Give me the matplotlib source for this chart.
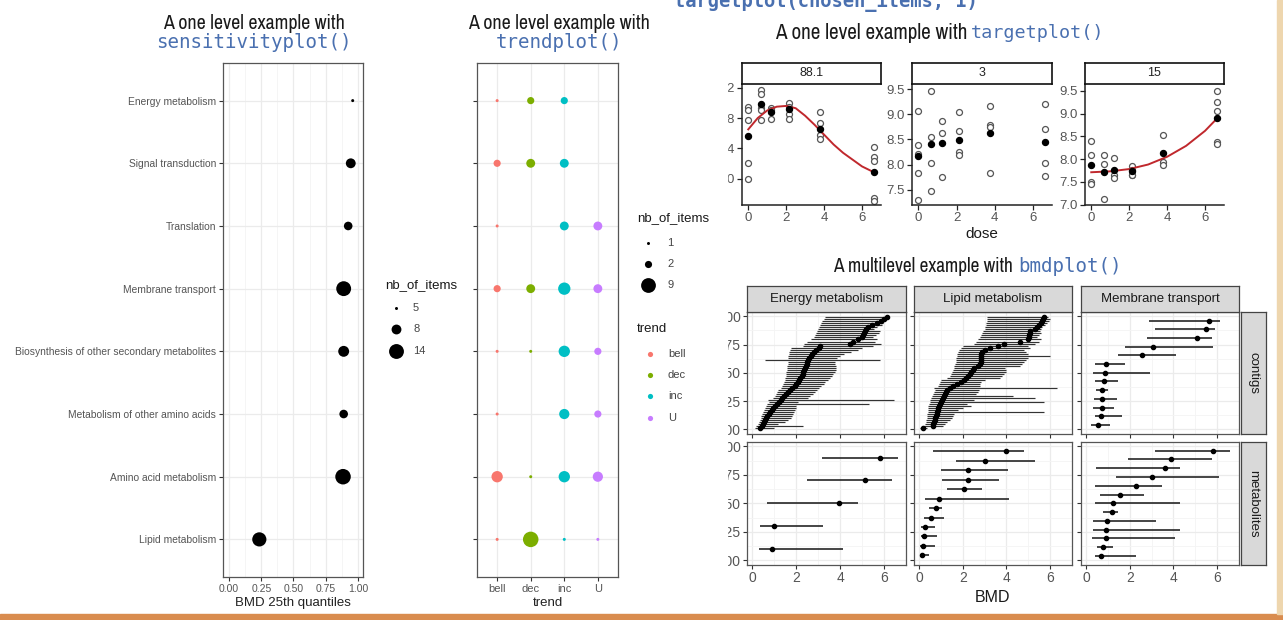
import numpy as np
import matplotlib
matplotlib.use("Agg")
import matplotlib.pyplot as plt
from matplotlib.patches import Rectangle
from matplotlib import font_manager

plt.rcParams['font.family'] = ['Liberation Sans', 'DejaVu Sans']

W, H = 1283, 620
fig = plt.figure(figsize=(W / 100, H / 100), dpi=100)

MONO = ['DejaVu Sans Mono']
BLUE = '#4a70b0'
NARROW_FP = font_manager.FontProperties(family=['Archivo Narrow', 'Liberation Sans', 'DejaVu Sans'])


def box(x0, y0, x1, y1):
    # pixel box (top-left origin) -> figure fraction
    return [x0 / W, 1 - y1 / H, (x1 - x0) / W, (y1 - y0) / H]


# ---------------- data ----------------
# sensitivityplot / trendplot (bottom -> top)
categories = ['Lipid metabolism', 'Amino acid metabolism', 'Metabolism of other amino acids',
              'Biosynthesis of other secondary metabolites', 'Membrane transport',
              'Translation', 'Signal transduction', 'Energy metabolism']
sens_q25 = [0.235, 0.885, 0.89, 0.89, 0.89, 0.925, 0.945, 0.96]
sens_nb = [13, 15, 7, 9, 14, 7, 8, 5]

trend_levels = ['bell', 'dec', 'inc', 'U']
trend_colors = ['#F8766D', '#7CAE00', '#00BFC4', '#C77CFF']
trend_bell = [1, 5, 1, 1, 2, 1, 2, 1]
trend_dec = [10, 1, 0, 1, 3, 0, 3, 2]
trend_inc = [1, 5, 4, 5, 6, 3, 3, 2]
trend_u = [1, 4, 2, 2, 3, 3, 0, 0]

# targetplot
doses = [0, 0.69, 1.22, 2.15, 3.78, 6.65]
t_labels = ['88.1', '3', '15']
t1_obs = [[8.95, 8.90, 8.77, 8.21, 8.00], [9.17, 9.12, 8.93, 8.90, 8.77], [8.93, 8.90, 8.79],
          [9.00, 8.95, 8.85, 8.79], [8.88, 8.73, 8.57, 8.52], [8.42, 8.29, 8.23, 7.74, 7.70]]
t1_mean = [8.56, 8.98, 8.88, 8.92, 8.65, 8.08]
t2_obs = [[9.07, 8.39, 8.22, 7.84, 7.29], [9.47, 8.54, 8.04, 7.48], [8.87, 8.63, 7.76],
          [9.04, 8.67, 8.26, 8.19], [9.17, 8.78, 8.74, 7.84], [9.20, 8.70, 8.04, 7.77]]
t2_mean = [8.17, 8.40, 8.43, 8.49, 8.62, 8.44]
t3_obs = [[8.39, 8.08, 7.49, 7.46], [8.10, 7.89, 7.13], [8.02, 7.66, 7.59],
          [7.84, 7.77, 7.66, 7.64], [8.52, 7.93, 7.88], [9.50, 9.25, 9.06, 8.37, 8.34]]
t3_mean = [7.87, 7.71, 7.75, 7.73, 8.13, 8.90]
c1_dose = [0, 0.5, 1, 1.5, 2, 2.5, 3, 3.5, 4, 4.5, 5, 5.5, 6, 6.65]
c1_val = [8.65, 8.80, 8.90, 8.95, 8.96, 8.93, 8.83, 8.71, 8.58, 8.45, 8.34, 8.25, 8.16, 8.08]
c3_dose = [0, 1, 2, 3, 4, 5, 6, 6.65]
c3_val = [7.71, 7.73, 7.78, 7.88, 8.05, 8.29, 8.62, 8.90]

# bmdplot
bmd_cols = ['Energy metabolism', 'Lipid metabolism', 'Membrane transport']
bmd_rows = ['contigs', 'metabolites']

em_c_bmd = [0.38, 0.45, 0.50, 0.55, 0.60, 0.65, 0.70, 0.76, 0.82, 0.90, 0.97, 1.05, 1.13, 1.22,
            1.30, 1.38, 1.47, 1.55, 1.63, 1.72, 1.82, 1.93, 2.02, 2.08, 2.14, 2.20, 2.25, 2.30,
            2.33, 2.37, 2.40, 2.44, 2.48, 2.52, 2.56, 2.60, 2.66, 2.74, 2.82, 2.90, 3.05, 3.10,
            4.45, 4.60, 4.80, 5.00, 5.05, 5.10, 5.15, 5.20, 5.28, 5.45, 5.70, 5.85, 6.00, 6.12]
em_c_low = [0.15, 0.20, 0.25, 0.30, 0.35, 0.40, 0.42, 0.45, 0.50, 0.55, 0.60, 0.65, 0.70, 0.75,
            0.73, 0.95, 1.05, 1.10, 1.15, 1.20, 1.30, 1.35, 1.40, 1.45, 1.50, 1.52, 1.55, 1.55,
            1.55, 1.58, 1.60, 1.60, 1.62, 1.62, 0.58, 1.65, 1.65, 1.68, 1.70, 1.72, 1.75, 2.30,
            2.35, 2.50, 2.70, 2.80, 2.85, 2.90, 2.95, 3.00, 3.05, 3.10, 3.15, 3.20, 3.25, 3.30]
em_c_up = [1.00, 2.30, 1.20, 1.50, 1.65, 1.75, 1.80, 1.85, 1.90, 1.95, 2.00, 2.00, 5.30, 2.10,
           6.45, 2.55, 2.65, 2.75, 2.85, 2.95, 3.05, 3.15, 3.25, 3.30, 3.45, 3.55, 3.65, 3.70,
           3.75, 3.80, 3.80, 3.80, 3.75, 3.78, 5.80, 3.85, 4.00, 4.20, 4.50, 4.80, 5.00, 5.50,
           5.85, 5.60, 5.70, 5.50, 5.65, 5.75, 5.80, 5.55, 5.70, 5.90, 5.95, 6.00, 6.05, 6.15]

lm_c_bmd = [0.18, 0.62, 0.66, 0.70, 0.72, 0.75, 0.78, 0.80, 0.83, 0.86, 0.88, 0.92, 0.96, 1.00,
            1.05, 1.10, 1.15, 1.18, 1.22, 1.28, 1.40, 1.55, 1.75, 1.90, 2.05, 2.15, 2.25, 2.32,
            2.40, 2.46, 2.52, 2.70, 2.80, 2.82, 2.83, 2.84, 2.85, 2.85, 2.86, 3.00, 3.25, 3.60,
            3.90, 4.60, 5.00, 5.02, 5.05, 5.08, 5.10, 5.30, 5.40, 5.50, 5.58, 5.65, 5.68, 5.72]
lm_c_low = [0.05, 0.25, 0.28, 0.30, 0.32, 0.35, 0.37, 0.38, 0.40, 0.40, 0.42, 0.43, 0.45, 0.48,
            0.50, 0.55, 0.60, 0.65, 0.70, 0.75, 0.70, 0.85, 0.90, 0.95, 1.00, 1.30, 1.40, 1.45,
            1.50, 1.55, 1.60, 1.62, 1.65, 1.68, 1.70, 1.70, 1.72, 1.75, 1.80, 1.85, 1.90, 2.00,
            2.50, 2.60, 2.70, 2.80, 2.85, 2.90, 2.95, 3.00, 3.00, 3.05, 3.05, 3.10, 3.10, 3.10]
lm_c_up = [0.35, 1.10, 1.20, 1.30, 1.40, 1.50, 1.55, 1.60, 5.70, 1.80, 2.00, 2.40, 2.20, 5.70,
           2.50, 5.30, 4.30, 2.60, 2.70, 2.75, 6.30, 2.80, 2.80, 2.85, 3.00, 3.70, 3.80, 3.90,
           4.00, 4.00, 3.95, 4.60, 4.70, 4.80, 4.90, 5.00, 6.00, 5.00, 4.90, 4.80, 5.10, 5.00,
           5.30, 5.50, 5.60, 5.40, 5.50, 5.60, 5.55, 5.60, 5.65, 5.75, 5.85, 5.95, 6.00, 5.90]

mt_c_bmd = [0.56, 0.68, 0.72, 0.72, 0.75, 0.82, 0.87, 0.91, 2.54, 3.07, 5.08, 5.48, 5.63]
mt_c_low = [0.21, 0.41, 0.33, 0.37, 0.44, 0.41, 0.30, 0.41, 1.45, 1.78, 2.80, 3.15, 2.88]
mt_c_up = [1.10, 1.66, 1.29, 1.43, 1.02, 1.45, 2.95, 1.78, 4.14, 5.81, 5.78, 5.92, 6.12]

em_m_bmd = [0.91, 1.00, 3.97, 5.14, 5.83]
em_m_low = [0.30, 0.35, 0.70, 2.51, 3.17]
em_m_up = [4.12, 3.21, 4.81, 6.36, 6.64]

lm_m_bmd = [0.12, 0.18, 0.21, 0.26, 0.53, 0.76, 0.90, 2.05, 2.24, 2.25, 3.00, 3.96]
lm_m_low = [0.03, 0.06, 0.09, 0.11, 0.24, 0.46, 0.29, 1.28, 1.07, 1.02, 1.70, 0.64]
lm_m_up = [0.44, 0.72, 0.82, 0.75, 1.13, 1.07, 4.11, 2.88, 3.64, 4.08, 5.31, 4.82]

mt_m_bmd = [0.68, 0.79, 0.90, 0.90, 0.97, 1.17, 1.22, 1.55, 2.27, 3.04, 3.62, 3.87, 5.81]
mt_m_low = [0.41, 0.52, 0.26, 0.30, 0.33, 0.76, 0.41, 0.64, 0.41, 1.37, 0.46, 1.93, 3.15]
mt_m_up = [2.28, 1.25, 4.09, 4.29, 3.18, 1.45, 4.29, 2.65, 3.46, 6.07, 4.32, 5.78, 6.60]


def area(n, nmin, nmax):
    d = 3 + 12.5 * np.sqrt((np.asarray(n, float) - nmin) / (nmax - nmin))
    return (d * 0.72) ** 2


def theme_bw(ax, labelsize=7.5):
    ax.set_facecolor('white')
    for s in ax.spines.values():
        s.set_color('#555555')
        s.set_linewidth(0.9)
    ax.grid(True, which='major', color='#ebebeb', lw=0.9)
    ax.grid(True, which='minor', color='#f4f4f4', lw=0.6)
    ax.set_axisbelow(True)
    ax.tick_params(which='major', length=3, width=0.8, color='#333333',
                   labelcolor='#555555', labelsize=labelsize, pad=2)
    ax.tick_params(which='minor', length=0)


# ---------------- sensitivityplot ----------------
ys = np.arange(1, len(categories) + 1)
ax = fig.add_axes(box(223, 63, 363, 577))
theme_bw(ax)
ax.scatter(sens_q25, ys, s=area(sens_nb, 5, 15), color='black', lw=0, zorder=3)
ax.set_xlim(-0.047, 1.04)
ax.set_ylim(0.4, 8.6)
ax.set_yticks(ys, categories, fontsize=7.4)
ax.set_xticks([0, 0.25, 0.5, 0.75, 1.0], ['0.00', '0.25', '0.50', '0.75', '1.00'])
ax.set_xticks([0.125, 0.375, 0.625, 0.875], minor=True)
ax.set_xlabel('BMD 25th quantiles', fontsize=9.5, color='#222222', labelpad=2)

# ---------------- trendplot ----------------
ax = fig.add_axes(box(477, 63, 618, 577))
theme_bw(ax, labelsize=8)
for k, counts in enumerate([trend_bell, trend_dec, trend_inc, trend_u]):
    counts = np.asarray(counts)
    m = counts > 0
    ax.scatter(np.full(m.sum(), k + 1), ys[m], s=area(counts[m], 1, 10),
               color=trend_colors[k], lw=0, zorder=3)
ax.set_xlim(0.4, 4.6)
ax.set_ylim(0.4, 8.6)
ax.set_yticks(ys, [''] * len(ys))
ax.set_xticks([1, 2, 3, 4], trend_levels)
ax.set_xlabel('trend', fontsize=9.5, color='#222222', labelpad=2)

# ---------------- targetplot ----------------
t_x = [(742, 881), (912, 1052), (1085, 1224)]
t_ylim = [(7.65, 9.25), (7.2, 9.6), (6.99, 9.65)]
t_yticks = [[8.0, 8.4, 8.8, 9.2], [7.5, 8.0, 8.5, 9.0, 9.5], [7.0, 7.5, 8.0, 8.5, 9.0, 9.5]]
t_obs = [t1_obs, t2_obs, t3_obs]
t_mean = [t1_mean, t2_mean, t3_mean]
t_curves = [(c1_dose, c1_val), None, (c3_dose, c3_val)]
for i in range(3):
    x0, x1 = t_x[i]
    ax = fig.add_axes(box(x0, 84, x1, 205))
    for sname in ['top', 'right']:
        ax.spines[sname].set_visible(False)
    for sname in ['left', 'bottom']:
        ax.spines[sname].set_linewidth(1.1)
        ax.spines[sname].set_color('#222222')
    for d, vals in zip(doses, t_obs[i]):
        ax.plot([d] * len(vals), vals, 'o', ms=4.3, mfc='white', mec='#555555', mew=0.9, zorder=2)
    ax.plot(doses, t_mean[i], 'o', ms=4.3, color='black', zorder=4)
    if t_curves[i] is not None:
        ax.plot(t_curves[i][0], t_curves[i][1], color='#c0282d', lw=1.4, zorder=3)
    ax.set_xlim(-0.33, 7.0)
    ax.set_ylim(*t_ylim[i])
    ax.set_xticks([0, 2, 4, 6])
    ax.set_yticks(t_yticks[i], ['%.1f' % v for v in t_yticks[i]])
    ax.tick_params(length=3.5, width=0.9, color='#222222', labelcolor='#555555',
                   labelsize=9.5, pad=1.5)
    sax = fig.add_axes(box(x0, 63, x1, 84))
    sax.set_xticks([])
    sax.set_yticks([])
    for s in sax.spines.values():
        s.set_linewidth(1.2)
        s.set_color('#111111')
    sax.text(0.5, 0.5, t_labels[i], ha='center', va='center', fontsize=9,
             color='#222222', transform=sax.transAxes)

# ---------------- bmdplot ----------------
b_x = [(747, 906), (914, 1072), (1081, 1239)]
b_y = [(312, 434), (442, 565)]
b_data = [[(em_c_bmd, em_c_low, em_c_up), (lm_c_bmd, lm_c_low, lm_c_up), (mt_c_bmd, mt_c_low, mt_c_up)],
          [(em_m_bmd, em_m_low, em_m_up), (lm_m_bmd, lm_m_low, lm_m_up), (mt_m_bmd, mt_m_low, mt_m_up)]]
for r in range(2):
    for c in range(3):
        x0, x1 = b_x[c]
        y0, y1 = b_y[r]
        ax = fig.add_axes(box(x0, y0, x1, y1))
        theme_bw(ax, labelsize=10)
        bmd, low, up = b_data[r][c]
        n = len(bmd)
        yy = (np.arange(1, n + 1) - 0.5) / n
        dense = n > 20
        ax.hlines(yy, low, up, color='#333333' if dense else '#262626',
                  lw=0.85 if dense else 1.2, zorder=2)
        ax.plot(bmd, yy, 'o', ms=3.0, color='black', zorder=3)
        ax.set_xlim(-0.23, 7.0)
        ax.set_ylim(-0.042, 1.038)
        ax.set_xticks([0, 2, 4, 6])
        ax.set_xticks([1, 3, 5], minor=True)
        ax.set_yticks([0, 0.25, 0.5, 0.75, 1.0])
        ax.set_yticks([0.125, 0.375, 0.625, 0.875], minor=True)
        ax.tick_params(which='major', pad=1.5)
        if c > 0:
            ax.set_yticklabels([])
        else:
            ax.set_yticklabels(['0.00', '0.25', '0.50', '0.75', '1.00'])
        if r == 0:
            ax.set_xticklabels([])
            sax = fig.add_axes(box(x0, 286, x1, 312))
            sax.set_facecolor('#d9d9d9')
            sax.set_xticks([])
            sax.set_yticks([])
            for s in sax.spines.values():
                s.set_color('#444444')
                s.set_linewidth(0.9)
            sax.text(0.5, 0.5, bmd_cols[c], ha='center', va='center', fontsize=9.5,
                     color='#1a1a1a', transform=sax.transAxes)
    y0, y1 = b_y[r]
    sax = fig.add_axes(box(1241, y0, 1266, y1))
    sax.set_facecolor('#d9d9d9')
    sax.set_xticks([])
    sax.set_yticks([])
    for s in sax.spines.values():
        s.set_color('#444444')
        s.set_linewidth(0.9)
    sax.text(0.5, 0.5, bmd_rows[r], ha='center', va='center', rotation=-90, fontsize=9.5,
             color='#1a1a1a', transform=sax.transAxes)

# ---------------- overlay: titles, legends, slide edges ----------------
ov = fig.add_axes([0, 0, 1, 1])
ov.set_zorder(20)
ov.patch.set_visible(False)
ov.set_xlim(0, W)
ov.set_ylim(H, 0)
ov.axis('off')
renderer = fig.canvas.get_renderer()


def title_text(x, y, s, width_px, ha):
    t = ov.text(x, y, s, fontproperties=NARROW_FP, color='#1a1a1a', ha=ha, va='baseline')
    t.set_fontsize(14.5)
    w = t.get_window_extent(renderer).width
    t.set_fontsize(max(10.5, min(16.0, 14.5 * width_px / w)))
    return t


# images were cropped on the left in the slide
ov.add_patch(Rectangle((704, 80), 23, 122, color='white', zorder=5))
ov.add_patch(Rectangle((700, 308), 26.5, 262, color='white', zorder=5))

ov.text(674, 7, 'targetplot(chosen_items, 1)', family=MONO, weight='bold', fontsize=13.5,
        color=BLUE, ha='left', va='baseline')
for cx, code in [(254, 'sensitivityplot()'), (559, 'trendplot()')]:
    title_text(cx, 29, 'A one level example with', 182, 'center')
    ov.text(cx, 42, code, family=MONO, fontsize=13.8, color=BLUE, ha='center', va='center')
title_text(967, 39, 'A one level example with', 193, 'right')
ov.text(971, 33, 'targetplot()', family=MONO, fontsize=13.3, color=BLUE, ha='left', va='center')
title_text(1013, 272, 'A multilevel example with', 180, 'right')
ov.text(1018, 266, 'bmdplot()', family=MONO, fontsize=13.8, color=BLUE, ha='left', va='center')
ov.text(982, 234, 'dose', fontsize=11, color='#1a1a1a', ha='center', va='center')
ov.text(992, 597, 'BMD', fontsize=11.5, color='#1a1a1a', ha='center', va='center')

# sensitivity legend
sens_leg = [5, 8, 14]
ov.text(385, 285, 'nb_of_items', fontsize=9.5, color='#1a1a1a', ha='left', va='center')
for v, yk in zip(sens_leg, [308, 329, 351]):
    ov.scatter([396], [yk], s=area(v, 5, 15), color='black', lw=0)
    ov.text(413, yk, str(v), fontsize=8, color='#444444', ha='left', va='center')

# trend legends
trend_leg = [1, 2, 9]
ov.text(637, 218, 'nb_of_items', fontsize=9.5, color='#1a1a1a', ha='left', va='center')
for v, yk in zip(trend_leg, [243, 264, 285]):
    ov.scatter([648], [yk], s=area(v, 1, 10), color='black', lw=0)
    ov.text(667, yk, str(v), fontsize=8, color='#444444', ha='left', va='center')
ov.text(637, 329, 'trend', fontsize=9.5, color='#1a1a1a', ha='left', va='center')
for k, yk in enumerate([354, 375, 396, 418]):
    ov.scatter([650], [yk], s=14, color=trend_colors[k], lw=0)
    ov.text(668, yk, trend_levels[k], fontsize=8, color='#444444', ha='left', va='center')

# slide border
ov.add_patch(Rectangle((0, 614), W, 6, color='#d98c4f', zorder=6))
ov.add_patch(Rectangle((1277, 0), 6, 614, color='#eed6ae', zorder=6))

fig.savefig('out.png', dpi=100, facecolor='white')
